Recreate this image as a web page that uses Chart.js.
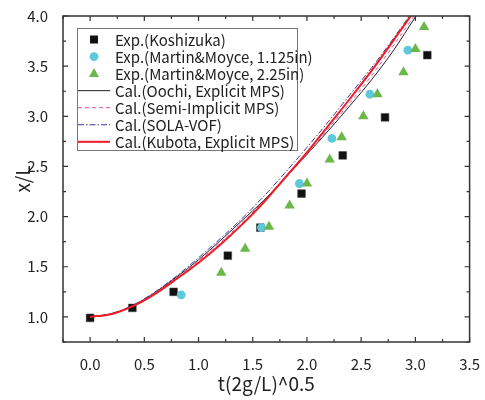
<!DOCTYPE html>
<html>
<head>
<meta charset="utf-8">
<script src="https://cdn.jsdelivr.net/npm/chart.js@4.4.0/dist/chart.umd.min.js"></script>
<style>
  body { margin: 0; background: #fff; }
  #wrap { width: 485px; height: 400px; }
</style>
</head>
<body>
<div id="wrap"><canvas id="surgeChart"></canvas></div>
<script>
// experimental points
var koshX = [0.0, 0.39, 0.77, 1.27, 1.57, 1.95, 2.33, 2.72, 3.11];
var koshY = [0.99, 1.09, 1.25, 1.61, 1.89, 2.23, 2.61, 2.99, 3.61];
var mm1X = [0.84, 1.58, 1.93, 2.23, 2.58, 2.93];
var mm1Y = [1.22, 1.89, 2.33, 2.78, 3.22, 3.66];
var mm2X = [1.21, 1.43, 1.65, 1.84, 2.00, 2.21, 2.32, 2.52, 2.65, 2.89, 3.00, 3.08];
var mm2Y = [1.44, 1.68, 1.90, 2.11, 2.33, 2.57, 2.79, 3.00, 3.22, 3.44, 3.67, 3.89];

// calculated curves
var calT = [0, 0.2, 0.4, 0.6, 0.8, 1.0, 1.2, 1.4, 1.6, 1.8, 2.0, 2.2, 2.4, 2.6, 2.8, 3.0, 3.1];
var oochiY = [1.0, 1.03, 1.115, 1.245, 1.40, 1.57, 1.76, 1.96, 2.16, 2.39, 2.62, 2.86, 3.11, 3.37, 3.66, 3.99, 4.15];
var semiY = [1.0, 1.03, 1.11, 1.24, 1.39, 1.56, 1.74, 1.94, 2.15, 2.38, 2.62, 2.88, 3.14, 3.41, 3.71, 4.02, 4.19];
var solaY = [1.0, 1.035, 1.12, 1.25, 1.41, 1.59, 1.78, 1.98, 2.20, 2.44, 2.69, 2.95, 3.22, 3.49, 3.78, 4.09, 4.26];
var kubotaY = [1.0, 1.03, 1.11, 1.23, 1.38, 1.54, 1.72, 1.92, 2.14, 2.39, 2.64, 2.91, 3.18, 3.46, 3.76, 4.07, 4.24];

var xTicks = [0.0, 0.5, 1.0, 1.5, 2.0, 2.5, 3.0, 3.5];
var yTicks = [1.0, 1.5, 2.0, 2.5, 3.0, 3.5, 4.0];

function pairs(xs, ys) {
  return xs.map(function (x, i) { return { x: x, y: ys[i] }; });
}

var tickFont = { family: 'Noto Sans CJK JP', size: 15 };
var titleFont = { family: 'Noto Sans CJK JP', size: 19 };

// frame with inward ticks on all four sides
var framePlugin = {
  id: 'frame',
  afterDraw: function (chart) {
    var c = chart.ctx, a = chart.chartArea;
    var xs = chart.scales.x, ys = chart.scales.y;
    c.save();
    c.strokeStyle = '#333';
    c.lineWidth = 1.5;
    c.strokeRect(a.left, a.top, a.right - a.left, a.bottom - a.top);
    c.lineWidth = 1.2;
    c.beginPath();
    for (var v = -0.25; v <= 3.5001; v += 0.25) {
      var px = xs.getPixelForValue(v);
      var len = Math.abs(v * 2 - Math.round(v * 2)) < 1e-6 ? 5 : 3;
      c.moveTo(px, a.bottom); c.lineTo(px, a.bottom - len);
      c.moveTo(px, a.top); c.lineTo(px, a.top + len);
    }
    for (var w = 0.75; w <= 4.0001; w += 0.25) {
      var py = ys.getPixelForValue(w);
      var ln = Math.abs(w * 2 - Math.round(w * 2)) < 1e-6 ? 5 : 3;
      c.moveTo(a.left, py); c.lineTo(a.left + ln, py);
      c.moveTo(a.right, py); c.lineTo(a.right - ln, py);
    }
    c.stroke();
    c.restore();
  }
};

// legend box inside the plot, upper left
var legendPlugin = {
  id: 'innerLegend',
  afterDraw: function (chart) {
    var c = chart.ctx;
    var bx = 77, by = 28, bw = 220, bh = 122;
    c.save();
    c.fillStyle = '#fff';
    c.fillRect(bx, by, bw, bh);
    c.strokeStyle = '#777';
    c.lineWidth = 1;
    c.strokeRect(bx + 0.5, by + 0.5, bw, bh);
    c.font = '15px "Noto Sans CJK JP"';
    c.textBaseline = 'middle';
    chart.data.datasets.forEach(function (ds, i) {
      var y = 39.5 + i * 17.05;
      var cx = 94;
      c.save();
      if (ds.showLine) {
        c.strokeStyle = ds.borderColor;
        c.lineWidth = ds.borderWidth;
        c.setLineDash(ds.borderDash || []);
        c.beginPath();
        c.moveTo(78, y); c.lineTo(110, y);
        c.stroke();
      } else {
        c.fillStyle = ds.backgroundColor;
        c.beginPath();
        if (ds.pointStyle === 'rect') {
          c.rect(cx - 4, y - 4, 8, 8);
        } else if (ds.pointStyle === 'circle') {
          c.arc(cx, y, 4.4, 0, Math.PI * 2);
        } else {
          c.moveTo(cx, y - 5.5); c.lineTo(cx + 5, y + 3.5); c.lineTo(cx - 5, y + 3.5);
          c.closePath();
        }
        c.fill();
      }
      c.restore();
      c.fillStyle = '#222';
      c.fillText(ds.label, 115, y + 0.5);
    });
    c.restore();
  }
};

var ctx = document.getElementById('surgeChart').getContext('2d');
var myChart = new Chart(ctx, {
  type: 'scatter',
  data: {
    datasets: [{
      label: 'Exp.(Koshizuka)',
      data: pairs(koshX, koshY),
      pointStyle: 'rect',
      pointRadius: 5.5,
      backgroundColor: '#111',
      borderColor: '#444',
      borderWidth: 0.5,
      order: 6
    }, {
      label: 'Exp.(Martin&Moyce, 1.125in)',
      data: pairs(mm1X, mm1Y),
      pointStyle: 'circle',
      pointRadius: 4.4,
      backgroundColor: '#5ec8dc',
      borderColor: '#5ec8dc',
      borderWidth: 0,
      order: 5
    }, {
      label: 'Exp.(Martin&Moyce, 2.25in)',
      data: pairs(mm2X, mm2Y),
      pointStyle: 'triangle',
      pointRadius: 6,
      backgroundColor: '#6bb84a',
      borderColor: '#6bb84a',
      borderWidth: 0,
      order: 4
    }, {
      label: 'Cal.(Oochi, Explicit MPS)',
      data: pairs(calT, oochiY),
      showLine: true,
      pointRadius: 0,
      borderColor: '#222',
      borderWidth: 1,
      cubicInterpolationMode: 'monotone',
      order: 3
    }, {
      label: 'Cal.(Semi-Implicit MPS)',
      data: pairs(calT, semiY),
      showLine: true,
      pointRadius: 0,
      borderColor: '#e050a8',
      borderWidth: 1,
      borderDash: [4, 3],
      cubicInterpolationMode: 'monotone',
      order: 2
    }, {
      label: 'Cal.(SOLA-VOF)',
      data: pairs(calT, solaY),
      showLine: true,
      pointRadius: 0,
      borderColor: '#3a3aa0',
      borderWidth: 1,
      borderDash: [6, 2, 1.5, 2],
      cubicInterpolationMode: 'monotone',
      order: 1
    }, {
      label: 'Cal.(Kubota, Explicit MPS)',
      data: pairs(calT, kubotaY),
      showLine: true,
      pointRadius: 0,
      borderColor: '#ee1c24',
      borderWidth: 2,
      cubicInterpolationMode: 'monotone',
      order: 0
    }]
  },
  options: {
    responsive: true,
    maintainAspectRatio: false,
    animation: false,
    layout: { padding: { left: 0, right: 13, top: 13, bottom: 0 } },
    plugins: {
      legend: { display: false },
      tooltip: { enabled: false }
    },
    scales: {
      x: {
        type: 'linear',
        min: -0.25,
        max: 3.5,
        afterBuildTicks: function (s) { s.ticks = xTicks.map(function (v) { return { value: v }; }); },
        afterFit: function (s) { s.height = 58; },
        grid: { display: false },
        border: { display: false },
        ticks: {
          font: tickFont,
          color: '#222',
          padding: 5,
          maxRotation: 0,
          callback: function (v) { return Number(v).toFixed(1); }
        },
        title: {
          display: true,
          text: 't(2g/L)^0.5',
          font: titleFont,
          color: '#222',
          padding: { top: 0, bottom: 5 }
        }
      },
      y: {
        type: 'linear',
        min: 0.75,
        max: 4.0,
        afterBuildTicks: function (s) { s.ticks = yTicks.map(function (v) { return { value: v }; }); },
        afterFit: function (s) { s.width = 63; },
        grid: { display: false },
        border: { display: false },
        ticks: {
          font: tickFont,
          color: '#222',
          padding: 7,
          callback: function (v) { return Number(v).toFixed(1); }
        },
        title: {
          display: true,
          text: 'x/L',
          font: titleFont,
          color: '#222',
          padding: { top: 11, bottom: 0 }
        }
      }
    }
  },
  plugins: [framePlugin, legendPlugin]
});
</script>
</body>
</html>
